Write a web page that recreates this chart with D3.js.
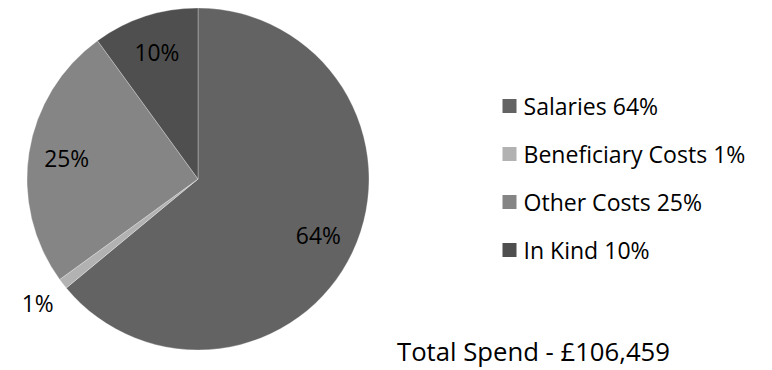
<!DOCTYPE html>
<html><head><meta charset="utf-8">
<script src="https://cdn.jsdelivr.net/npm/d3@7"></script>
<style>body{margin:0;background:#fff;} svg{display:block;}</style>
</head><body>
<svg id="c" width="772" height="370"></svg>
<script>
const categories = ["Salaries", "Beneficiary Costs", "Other Costs", "In Kind"];
const values = [64, 1, 25, 10];
const colors = ["#636363", "#b2b2b2", "#858585", "#4f4f4f"];
const totalLabel = "Total Spend - £106,459";

const svg = d3.select("#c");
const font = "'Open Sans', sans-serif";
const cx = 198, cy = 179, R = 171;
const data = categories.map((c, i) => ({name: c, value: values[i], color: colors[i]}));
const pie = d3.pie().value(d => d.value).sort(null);
const arcs = pie(data);
const arc = d3.arc().innerRadius(0).outerRadius(R);
const g = svg.append("g").attr("transform", `translate(${cx},${cy})`);
g.selectAll("path").data(arcs).join("path")
  .attr("d", arc).attr("fill", d => d.data.color)
  .attr("stroke", "#fff").attr("stroke-width", 0.3);

// fit helper: scale font size so text matches a target width
function fit(sel, target) {
  sel.each(function() {
    const w = this.getComputedTextLength();
    const fs = parseFloat(this.getAttribute("font-size"));
    this.setAttribute("font-size", (fs * target / w).toFixed(2));
  });
}

const inLabel = d3.arc().innerRadius(133).outerRadius(133);
const outLabel = d3.arc().innerRadius(203).outerRadius(203);
const lbls = g.selectAll("text.lbl").data(arcs).join("text")
  .attr("class", "lbl")
  .attr("transform", d => `translate(${(d.data.value < 5 ? outLabel : inLabel).centroid(d)})`)
  .attr("text-anchor", "middle").attr("dominant-baseline", "central")
  .attr("font-family", font).attr("font-size", 20).attr("fill", "#000")
  .text(d => d.data.value + "%");
lbls.filter(d => d.data.value === 64).call(fit, 45);
const fs64 = lbls.filter(d => d.data.value === 64).attr("font-size");
lbls.attr("font-size", fs64);

const leg = svg.append("g").attr("transform", "translate(502.5,106)");
const row = leg.selectAll("g").data(data).join("g")
  .attr("transform", (d, i) => `translate(0,${i * 48})`);
row.append("rect").attr("x", 0).attr("y", -7).attr("width", 14).attr("height", 14).attr("fill", d => d.color);
const lt = row.append("text").attr("x", 21).attr("y", 0).attr("dominant-baseline", "central")
  .attr("font-family", font).attr("font-size", 20).attr("fill", "#000")
  .text(d => `${d.name} ${d.value}%`);
lt.filter((d, i) => i === 1).call(fit, 222);
lt.attr("font-size", lt.filter((d, i) => i === 1).attr("font-size"));

svg.append("text").attr("x", 397).attr("y", 351).attr("dominant-baseline", "central")
  .attr("font-family", font).attr("font-size", 22).attr("fill", "#000").text(totalLabel)
  .call(fit, 273);
</script>
</body></html>
